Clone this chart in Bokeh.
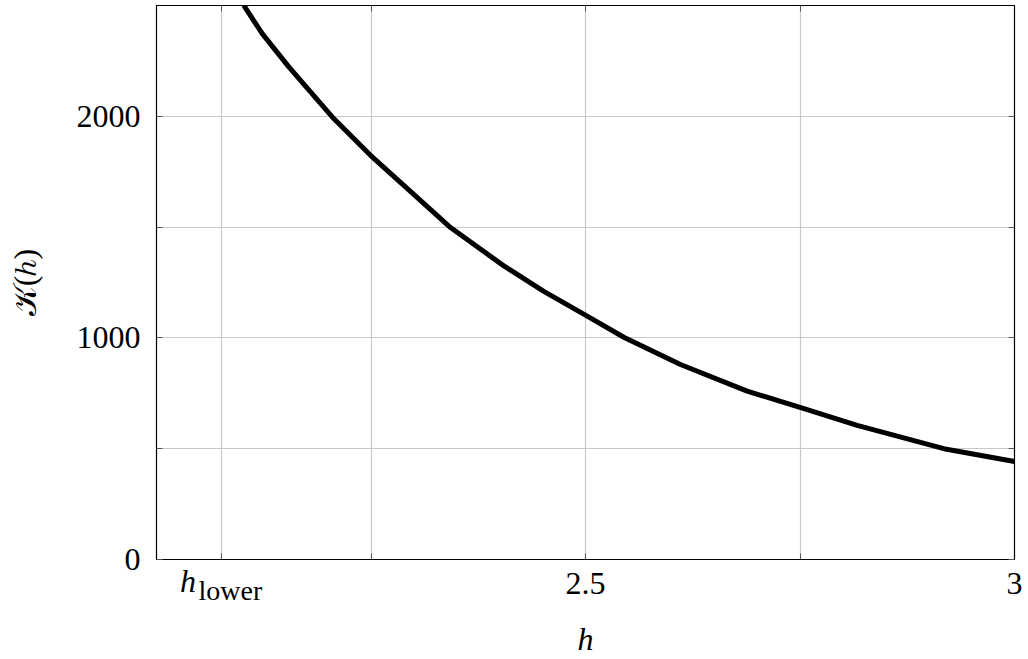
from bokeh.plotting import figure
from bokeh.models import FixedTicker, LinearAxis, Range1d
from bokeh.embed import file_html
from bokeh.resources import INLINE

# data
h_vals = [2.1017, 2.1232, 2.1542, 2.2048, 2.2494, 2.2882, 2.3427, 2.4048, 2.4514,
          2.504, 2.5446, 2.6107, 2.6884, 2.7584, 2.8166, 2.9176, 3.0]
K_vals = [2501, 2373, 2223, 1997, 1824, 1688, 1498, 1325, 1210,
          1094, 1003, 880, 760, 676, 605, 500, 442]
h_lower = 2.076
x_labelled_ticks = [2.5, 3.0]
x_other_ticks = [h_lower, 2.25, 2.75]
x_tick_labels = {2.5: "2.5", 3.0: "3"}
y_labelled_ticks = [0, 1000, 2000]
y_other_ticks = [500, 1500]
y_tick_labels = {0: "0", 1000: "1000", 2000: "2000"}

FONT = "Liberation Serif"
FS = "32px"

p = figure(width=1028, height=659, output_backend="svg", toolbar_location=None,
           x_range=Range1d(2.0, 3.0), y_range=Range1d(0, 2500),
           min_border_left=156, min_border_right=14, min_border_top=5, min_border_bottom=100)
p.outline_line_color = "black"
p.outline_line_width = 1.2
p.background_fill_color = "white"
p.border_fill_color = "white"

p.line(h_vals, K_vals, line_color="black", line_width=5, line_join="round")

all_x = sorted(x_labelled_ticks + x_other_ticks)
all_y = sorted(y_labelled_ticks + y_other_ticks)


def style_ticks(ax):
    ax.major_tick_in = 6
    ax.major_tick_out = 0
    ax.minor_tick_in = 6
    ax.minor_tick_out = 0
    ax.axis_line_color = "black"
    ax.major_tick_line_color = "#555555"
    ax.minor_tick_line_color = "#555555"


xa = p.xaxis[0]
ya = p.yaxis[0]
for ax in (xa, ya):
    style_ticks(ax)
    ax.major_label_text_font = FONT
    ax.major_label_text_font_size = FS
    ax.major_label_text_color = "black"
    ax.axis_label_text_font = FONT
    ax.axis_label_text_font_size = FS
    ax.axis_label_text_color = "black"

xa.ticker = FixedTicker(ticks=x_labelled_ticks, minor_ticks=x_other_ticks)
xa.major_label_overrides = x_tick_labels
xa.major_label_standoff = 13

ya.ticker = FixedTicker(ticks=y_labelled_ticks, minor_ticks=y_other_ticks)
ya.major_label_overrides = y_tick_labels
ya.major_label_standoff = 16
ya.axis_label = "𝒦(ℎ)"
ya.axis_label_standoff = 31
ya.axis_label_text_font_style = "normal"

# h_lower tick label: italic "h" and the subscript "lower", each on a label-only axis
h_pos = h_lower - 0.0393
sub_pos = h_lower + 0.0102
ax_h = LinearAxis(ticker=FixedTicker(ticks=[h_pos]), major_label_overrides={h_pos: "h"},
                  major_label_text_font=FONT, major_label_text_font_size=FS,
                  major_label_text_font_style="italic", major_label_text_color="black",
                  major_label_standoff=-34, axis_line_color=None,
                  major_tick_line_color=None, minor_tick_line_color=None,
                  major_tick_in=0, major_tick_out=0, minor_tick_in=0, minor_tick_out=0)
ax_sub = LinearAxis(ticker=FixedTicker(ticks=[sub_pos]), major_label_overrides={sub_pos: "lower"},
                    major_label_text_font=FONT, major_label_text_font_size="28px",
                    major_label_text_color="black",
                    major_label_standoff=-27, axis_line_color=None,
                    major_tick_line_color=None, minor_tick_line_color=None,
                    major_tick_in=0, major_tick_out=0, minor_tick_in=0, minor_tick_out=0,
                    axis_label="h", axis_label_text_font=FONT, axis_label_text_font_size=FS,
                    axis_label_text_font_style="italic", axis_label_text_color="black",
                    axis_label_standoff=12)
p.add_layout(ax_h, "below")
p.add_layout(ax_sub, "below")

# mirrored ticks on top and right (ticks only, no labels)
top = LinearAxis(ticker=FixedTicker(ticks=[], minor_ticks=all_x))
right = LinearAxis(ticker=FixedTicker(ticks=[], minor_ticks=all_y))
for ax in (top, right):
    style_ticks(ax)
    ax.major_label_standoff = 0
p.add_layout(top, "above")
p.add_layout(right, "right")

p.xgrid[0].ticker = FixedTicker(ticks=all_x)
p.ygrid[0].ticker = FixedTicker(ticks=all_y)
p.xgrid.grid_line_color = "#c8c8c8"
p.ygrid.grid_line_color = "#c8c8c8"
p.xgrid.grid_line_width = 1.2
p.ygrid.grid_line_width = 1.2

open("out.html", "w").write(file_html(p, INLINE))
